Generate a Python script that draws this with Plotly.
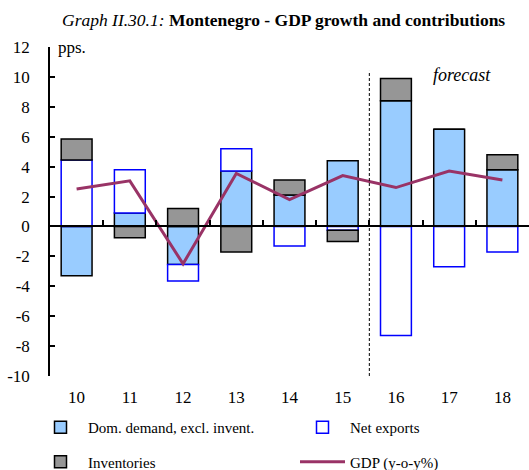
import plotly.graph_objects as go

# Years (20xx) and contributions to GDP growth, in percentage points
years = ["10", "11", "12", "13", "14", "15", "16", "17", "18"]
dom_demand = [-3.3, 0.9, -2.55, 3.7, 2.1, 4.4, 8.4, 6.5, 3.8]
net_exports = [4.45, 2.9, -1.1, 1.5, -1.3, -0.25, -7.3, -2.7, -1.7]
inventories = [1.4, -0.75, 1.2, -1.7, 1.0, -0.75, 1.5, 0.0, 1.0]
gdp = [2.5, 3.05, -2.5, 3.55, 1.8, 3.4, 2.6, 3.7, 3.1]

y_ticks = list(range(-10, 13, 2))
y_labels = [str(v) for v in y_ticks]
x_pos = list(range(len(years)))

serif = "Liberation Serif"
W, H = 529, 470

fig = go.Figure()

fig.add_trace(go.Bar(
    x=x_pos, y=dom_demand, name="Dom. demand, excl. invent.",
    marker=dict(color="#99CCFF", line=dict(color="black", width=1.5)),
    legend="legend", legendgroup="dom",
))
fig.add_trace(go.Bar(
    x=x_pos, y=net_exports, name="Net exports",
    marker=dict(color="white", line=dict(color="#0000FF", width=1.5)),
    legend="legend2", legendgroup="nx",
))
fig.add_trace(go.Bar(
    x=x_pos, y=inventories, name="Inventories",
    marker=dict(color="#969696", line=dict(color="black", width=1.5)),
    legend="legend", legendgroup="inv",
))
fig.add_trace(go.Scatter(
    x=x_pos, y=gdp, name="GDP (y-o-y%)", mode="lines",
    line=dict(color="#993366", width=3),
    xaxis="x2", legend="legend2", legendgroup="gdp",
))

# Forecast separator between 2015 and 2016
fig.add_shape(type="line", xref="x", yref="y", x0=5.5, x1=5.5,
              y0=-10, y1=10.4, line=dict(color="black", width=1, dash="3px,2px"))

fig.add_annotation(text="<i>forecast</i>", xref="x", yref="y", x=7.25, y=10.1,
                   showarrow=False, font=dict(family=serif, size=18, color="black"))
fig.add_annotation(text="pps.", xref="paper", yref="paper", x=0.013, y=1.0,
                   xanchor="left", yanchor="middle", showarrow=False,
                   font=dict(family=serif, size=17, color="black"))
fig.add_annotation(text="<i>Graph II.30.1:</i> <b>Montenegro - GDP growth and contributions</b>",
                   xref="paper", yref="paper", x=0.955, y=1.0, yshift=27,
                   xanchor="right", yanchor="middle", showarrow=False,
                   font=dict(family=serif, size=17.5, color="black"))

legend_style = dict(
    xref="container", yref="container", xanchor="left", yanchor="top",
    orientation="v", traceorder="grouped", tracegroupgap=12,
    font=dict(family=serif, size=15, color="black"), itemwidth=45,
    bgcolor="rgba(0,0,0,0)", borderwidth=0,
)

fig.update_layout(
    width=W, height=H,
    margin=dict(l=50, r=0, t=47, b=94, autoexpand=False),
    paper_bgcolor="white", plot_bgcolor="white",
    barmode="relative", bargap=0.42,
    font=dict(family=serif, size=17, color="black"),
    showlegend=True,
    legend=dict(x=33 / W, y=1 - 411 / H, **legend_style),
    legend2=dict(x=295 / W, y=1 - 411 / H, **legend_style),
    xaxis=dict(range=[-0.5, 8.5], tickmode="array", tickvals=x_pos, ticktext=years,
               showline=False, showgrid=False, zeroline=False, ticks="",
               ticklabelstandoff=9, automargin=False),
    xaxis2=dict(overlaying="x", matches="x", anchor="free", position=10 / 22,
                showline=True, linecolor="black", linewidth=1.5,
                tickmode="array", tickvals=[i + 0.5 for i in x_pos[:-1]],
                ticks="inside", ticklen=6, tickcolor="black", tickwidth=1.5,
                showticklabels=False, showgrid=False, zeroline=False),
    yaxis=dict(range=[-10, 12], tickmode="array", tickvals=y_ticks, ticktext=y_labels,
               showline=True, linecolor="black", linewidth=1.5,
               ticks="inside", ticklen=5, tickcolor="black", tickwidth=1.5,
               showgrid=False, zeroline=False, ticklabelstandoff=15, automargin=False),
)

fig.write_html("out.html")
